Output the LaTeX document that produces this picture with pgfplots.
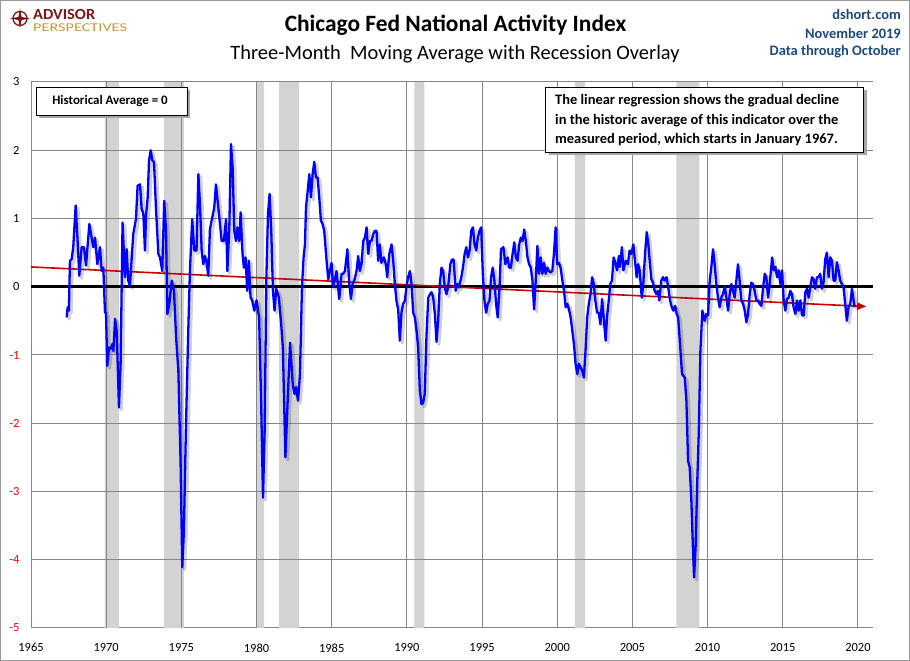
\documentclass[border=0pt]{standalone}
\usepackage{fontspec}
\setmainfont{Carlito}
\usepackage{graphicx}
\usepackage{pgfplots}
\pgfplotsset{compat=1.18}
\usepackage{pgfplotstable}
\usetikzlibrary{arrows.meta}
\definecolor{apblue}{RGB}{31,73,125}
\definecolor{apred}{RGB}{125,22,24}
\definecolor{aptan}{RGB}{196,154,60}
\definecolor{gridgray}{RGB}{134,134,134}
\definecolor{bandgray}{RGB}{211,211,211}
\definecolor{regred}{RGB}{200,0,0}
\definecolor{lineblue}{RGB}{0,0,255}

\pgfplotstableread{
year val
1967.37 -0.45
1967.44 -0.30
1967.52 -0.35
1967.59 0.38
1967.70 0.40
1967.81 0.58
1967.97 1.19
1968.10 0.67
1968.21 0.16
1968.37 0.58
1968.52 0.58
1968.66 0.31
1968.88 0.92
1969.03 0.72
1969.14 0.58
1969.26 0.72
1969.41 0.33
1969.59 0.58
1969.70 0.23
1969.81 0.28
1969.92 -0.38
1969.99 -0.38
1970.07 -1.16
1970.19 -0.89
1970.30 -0.91
1970.41 -0.84
1970.48 -0.94
1970.59 -0.47
1970.70 -0.65
1970.85 -1.77
1970.96 -1.13
1971.09 0.94
1971.25 0.14
1971.36 0.55
1971.47 0.09
1971.58 0.01
1971.80 0.77
1971.98 0.99
1972.09 1.48
1972.25 1.50
1972.36 1.14
1972.47 1.07
1972.58 0.53
1972.65 1.04
1972.76 1.31
1972.85 1.85
1972.96 2.00
1973.07 1.85
1973.18 1.83
1973.31 1.16
1973.47 0.48
1973.58 0.43
1973.73 0.23
1973.86 1.26
1973.98 0.82
1974.07 -0.40
1974.20 -0.25
1974.36 0.09
1974.51 -0.06
1974.65 -0.74
1974.80 -1.23
1974.95 -2.60
1975.06 -4.11
1975.17 -3.58
1975.30 -2.11
1975.46 -0.64
1975.57 0.23
1975.72 0.99
1975.86 0.53
1976.01 0.53
1976.13 1.65
1976.24 1.21
1976.35 0.53
1976.46 0.33
1976.57 0.45
1976.68 0.36
1976.79 0.16
1976.90 0.84
1977.05 1.01
1977.19 1.16
1977.30 1.50
1977.46 1.16
1977.57 0.92
1977.68 0.67
1977.83 0.67
1977.97 0.99
1978.06 0.23
1978.19 0.87
1978.30 2.09
1978.41 1.75
1978.52 0.82
1978.63 0.67
1978.72 0.87
1978.85 0.67
1978.94 1.09
1979.07 0.48
1979.16 0.28
1979.27 0.43
1979.38 -0.06
1979.49 0.38
1979.60 -0.15
1979.71 -0.20
1979.85 -0.35
1980.00 -0.20
1980.17 -0.45
1980.30 -1.62
1980.43 -3.09
1980.54 -2.11
1980.65 0.09
1980.76 1.07
1980.87 1.36
1980.98 0.82
1981.09 -0.06
1981.20 -0.35
1981.31 -0.03
1981.48 -0.15
1981.64 -0.55
1981.75 -0.89
1981.92 -2.50
1982.08 -1.62
1982.23 -0.82
1982.41 -1.43
1982.52 -1.57
1982.63 -1.47
1982.76 -1.67
1982.89 -1.28
1983.02 -0.01
1983.13 0.43
1983.22 0.62
1983.29 1.16
1983.40 1.40
1983.51 1.65
1983.62 1.31
1983.73 1.65
1983.84 1.83
1983.95 1.60
1984.06 1.60
1984.17 1.31
1984.28 0.97
1984.39 0.92
1984.50 0.82
1984.66 0.38
1984.77 0.11
1984.99 0.35
1985.10 -0.01
1985.21 0.11
1985.32 0.23
1985.50 -0.18
1985.66 0.19
1985.77 0.19
1985.88 0.23
1986.04 0.55
1986.17 0.04
1986.28 -0.18
1986.39 0.04
1986.50 0.09
1986.65 0.23
1986.76 0.45
1986.87 0.23
1986.98 0.33
1987.10 0.67
1987.21 0.72
1987.32 0.87
1987.43 0.48
1987.54 0.67
1987.65 0.67
1987.76 0.77
1987.87 0.82
1987.98 0.82
1988.09 0.38
1988.20 0.62
1988.31 0.35
1988.47 0.43
1988.60 0.33
1988.69 0.14
1988.83 0.48
1988.98 0.62
1989.09 0.38
1989.20 0.04
1989.31 -0.21
1989.42 -0.33
1989.53 -0.79
1989.64 -0.38
1989.75 -0.25
1989.86 -0.21
1989.97 -0.01
1990.08 0.14
1990.20 0.23
1990.31 0.04
1990.42 -0.38
1990.53 -0.45
1990.64 -0.64
1990.75 -0.89
1990.86 -1.52
1990.97 -1.72
1991.08 -1.70
1991.19 -1.57
1991.30 -0.74
1991.42 -0.16
1991.53 -0.11
1991.64 -0.08
1991.75 -0.16
1991.86 -0.40
1991.97 -0.81
1992.08 -0.50
1992.19 0.04
1992.30 0.28
1992.41 0.23
1992.52 -0.01
1992.63 -0.11
1992.74 -0.01
1992.89 0.33
1993.00 0.40
1993.11 0.40
1993.24 -0.06
1993.35 0.04
1993.46 -0.01
1993.62 0.14
1993.73 0.28
1993.84 0.48
1993.95 0.58
1994.06 0.43
1994.17 0.53
1994.28 0.82
1994.39 0.87
1994.50 0.62
1994.61 0.53
1994.72 0.72
1994.83 0.82
1994.94 0.87
1995.05 0.19
1995.16 -0.21
1995.27 -0.38
1995.38 -0.25
1995.49 -0.21
1995.60 0.14
1995.71 0.28
1995.82 0.09
1995.93 -0.25
1996.04 -0.45
1996.15 -0.06
1996.26 0.55
1996.42 0.58
1996.55 0.33
1996.70 0.43
1996.81 0.28
1996.92 0.28
1997.03 0.48
1997.14 0.65
1997.25 0.43
1997.36 0.38
1997.47 0.62
1997.58 0.72
1997.69 0.67
1997.80 0.84
1997.91 0.67
1998.02 0.43
1998.13 0.33
1998.24 0.28
1998.35 0.09
1998.46 -0.33
1998.57 0.09
1998.68 0.60
1998.79 0.19
1998.90 0.43
1999.01 0.19
1999.12 0.35
1999.23 0.19
1999.34 0.28
1999.45 0.23
1999.56 0.21
1999.67 0.23
1999.78 0.48
1999.89 0.87
2000.00 0.33
2000.11 0.35
2000.22 0.28
2000.34 0.09
2000.45 -0.06
2000.56 -0.30
2000.67 -0.25
2000.78 -0.33
2000.89 -0.45
2001.00 -0.64
2001.11 -0.84
2001.22 -1.13
2001.33 -1.28
2001.44 -1.13
2001.55 -1.18
2001.66 -1.23
2001.77 -1.33
2001.88 -0.94
2001.99 -0.45
2002.10 -0.25
2002.21 -0.11
2002.32 0.14
2002.43 0.04
2002.54 -0.21
2002.65 -0.38
2002.76 -0.38
2002.87 -0.55
2002.98 -0.18
2003.09 -0.45
2003.22 -0.79
2003.31 -0.45
2003.42 -0.21
2003.53 0.04
2003.64 0.09
2003.75 0.43
2003.86 0.35
2003.98 0.24
2004.10 0.45
2004.16 0.29
2004.30 0.58
2004.40 0.24
2004.55 0.38
2004.70 0.33
2004.81 0.53
2004.92 0.48
2005.06 0.62
2005.16 0.40
2005.28 0.14
2005.38 0.33
2005.48 0.24
2005.62 -0.16
2005.72 0.04
2005.84 0.48
2005.95 0.80
2006.06 0.62
2006.15 0.38
2006.26 0.11
2006.37 0.06
2006.48 -0.06
2006.60 -0.11
2006.70 -0.06
2006.79 -0.20
2006.92 0.09
2007.03 0.14
2007.14 0.09
2007.27 0.14
2007.38 -0.01
2007.50 -0.20
2007.62 -0.30
2007.72 -0.35
2007.84 -0.28
2007.95 -0.40
2008.04 -0.45
2008.15 -0.79
2008.30 -1.28
2008.48 -1.33
2008.59 -1.67
2008.70 -2.55
2008.81 -2.65
2008.92 -3.14
2009.03 -3.87
2009.10 -4.26
2009.21 -3.77
2009.30 -2.94
2009.41 -2.16
2009.52 -0.94
2009.65 -0.35
2009.81 -0.50
2009.92 -0.40
2010.03 -0.42
2010.14 0.09
2010.25 0.29
2010.36 0.55
2010.47 0.33
2010.58 0.04
2010.69 -0.16
2010.80 -0.30
2010.91 -0.16
2011.02 -0.11
2011.14 0.01
2011.25 -0.16
2011.36 -0.35
2011.47 -0.11
2011.58 0.04
2011.69 -0.06
2011.80 -0.16
2011.91 0.09
2012.02 0.33
2012.13 0.09
2012.24 -0.20
2012.36 -0.25
2012.47 -0.35
2012.58 -0.52
2012.69 -0.40
2012.80 -0.11
2012.91 0.06
2013.02 0.04
2013.13 -0.06
2013.24 -0.20
2013.35 -0.20
2013.46 -0.25
2013.58 -0.28
2013.69 -0.01
2013.80 0.19
2013.91 0.14
2014.02 -0.16
2014.13 0.04
2014.29 0.43
2014.40 0.24
2014.51 0.29
2014.62 0.14
2014.73 0.24
2014.84 0.04
2014.95 0.24
2015.06 -0.20
2015.17 -0.35
2015.28 -0.18
2015.39 -0.16
2015.50 -0.06
2015.61 -0.11
2015.72 -0.30
2015.84 -0.40
2015.95 -0.20
2016.06 -0.35
2016.17 -0.20
2016.28 -0.42
2016.39 -0.42
2016.50 -0.08
2016.61 -0.03
2016.72 -0.16
2016.83 -0.01
2016.94 0.14
2017.05 0.11
2017.16 -0.03
2017.27 0.14
2017.38 0.14
2017.49 0.19
2017.60 -0.03
2017.71 0.06
2017.82 0.40
2017.93 0.50
2018.05 0.14
2018.16 0.43
2018.27 0.38
2018.38 0.09
2018.49 0.09
2018.60 0.36
2018.71 0.24
2018.82 0.09
2018.93 0.04
2019.04 -0.01
2019.15 -0.25
2019.26 -0.50
2019.37 -0.30
2019.49 -0.25
2019.60 -0.03
2019.71 -0.20
2019.78 -0.30
}\cfnai

\begin{document}
\begin{tikzpicture}
\path[use as bounding box] (0bp,0bp) rectangle (910bp,661bp);
\fill[white] (0bp,0bp) rectangle (910bp,661bp);
\draw[gray!80, line width=1bp] (0.5bp,0.5bp) rectangle (909.5bp,660.5bp);

\begin{axis}[
  at={(31bp,33bp)}, anchor=south west,
  scale only axis, width=842bp, height=546bp,
  xmin=1965, xmax=2021, ymin=-5, ymax=3,
  axis lines=left,
  axis line style={-, draw=gridgray, line width=1bp},
  xtick={1965,1970,...,2020},
  xticklabels={1965,1970,1975,1980,1985,1990,1995,2000,2005,2010,2015,2020},
  ytick={-5,-4,-3,-2,-1,0,1,2,3},
  yticklabels={{\textcolor{red}{-5}},{\textcolor{red}{-4}},{\textcolor{red}{-3}},{\textcolor{red}{-2}},{\textcolor{red}{-1}},0,1,2,3},
  tick align=outside,
  xtick style={draw=none},
  ytick style={draw=none},
  major tick length=5bp,
  xticklabel style={font=\fontsize{12.5}{14}\selectfont, yshift=-7bp},
  yticklabel style={font=\fontsize{12.5}{14}\selectfont, xshift=-3bp},
  clip=false,
]
% recession bands
\addplot[fill=bandgray, draw=none] coordinates {(1969.92,-5) (1969.92,3) (1970.85,3) (1970.85,-5) (1969.92,-5)};
\addplot[fill=bandgray, draw=none] coordinates {(1973.86,-5) (1973.86,3) (1975.17,3) (1975.17,-5) (1973.86,-5)};
\addplot[fill=bandgray, draw=none] coordinates {(1980.03,-5) (1980.03,3) (1980.50,3) (1980.50,-5) (1980.03,-5)};
\addplot[fill=bandgray, draw=none] coordinates {(1981.50,-5) (1981.50,3) (1982.83,3) (1982.83,-5) (1981.50,-5)};
\addplot[fill=bandgray, draw=none] coordinates {(1990.50,-5) (1990.50,3) (1991.17,3) (1991.17,-5) (1990.50,-5)};
\addplot[fill=bandgray, draw=none] coordinates {(2001.17,-5) (2001.17,3) (2001.85,3) (2001.85,-5) (2001.17,-5)};
\addplot[fill=bandgray, draw=none] coordinates {(2007.92,-5) (2007.92,3) (2009.45,3) (2009.45,-5) (2007.92,-5)};
% grid lines
\pgfplotsinvokeforeach{1970,1975,1980,1985,1990,1995,2000,2005,2010,2015,2020}{
  \addplot[gridgray, line width=1bp] coordinates {(#1,-5) (#1,3)};
}
\pgfplotsinvokeforeach{-4,-3,-2,-1,1,2,3}{
  \addplot[gridgray, line width=1bp] coordinates {(1965,#1) (2021,#1)};
}
% zero line
\addplot[black, line width=3bp] coordinates {(1965,0) (2021,0)};
% regression line
\addplot[regred, line width=1.6bp, -{Triangle[length=9bp,width=7bp]}] coordinates {(1965,0.29) (2020.56,-0.29)};
% shadow of the series
\addplot[black, opacity=0.18, line width=3bp, line join=round] table[x expr=\thisrow{year}+0.16, y expr=\thisrow{val}-0.037] {\cfnai};
% main series
\addplot[lineblue, line width=2.3bp, line join=round] table[x=year,y=val] {\cfnai};
\end{axis}

% text boxes
\fill[black!35] (39bp,543bp) rectangle (190bp,571bp);
\filldraw[fill=white, draw=black, line width=0.8bp] (36bp,546bp) rectangle (187bp,574bp);
\node[font=\bfseries\fontsize{13}{15}\selectfont] at (110bp,560bp) {Historical Average = 0};

\fill[black!35] (548.6bp,506bp) rectangle (866.6bp,571bp);
\filldraw[fill=white, draw=black, line width=0.8bp] (545.6bp,509bp) rectangle (863.6bp,574bp);
\node[font=\bfseries\fontsize{14.5}{19.5}\selectfont, align=left, anchor=north west, inner sep=0pt] at (555bp,566.5bp) {The linear regression shows the gradual decline\\in the historic average of this indicator over the\\measured period, which starts in January 1967.};

% titles
\node[font=\bfseries\fontsize{23.5}{26}\selectfont] at (455.5bp,636bp) {Chicago Fed National Activity Index};
\node[font=\fontsize{20.5}{24}\selectfont] at (455bp,607bp) {Three-Month\ \ Moving\ Average\ with\ Recession\ Overlay};

% right header
\node[font=\bfseries\fontsize{14.5}{16}\selectfont, text=apblue, anchor=east, inner sep=0pt] at (901bp,647bp) {dshort.com};
\node[font=\bfseries\fontsize{14.5}{16}\selectfont, text=apblue, anchor=east, inner sep=0pt] at (901bp,628bp) {November 2019};
\node[font=\bfseries\fontsize{14.5}{16}\selectfont, text=apblue, anchor=east, inner sep=0pt] at (901bp,609bp) {Data through October};

% logo
\draw[apred, line width=1.3bp] (20bp,642.5bp) circle (7bp);
\fill[apred] (20bp,652.5bp) -- (21.6bp,644.1bp) -- (30bp,642.5bp) -- (21.6bp,640.9bp) -- (20bp,632.5bp) -- (18.4bp,640.9bp) -- (10bp,642.5bp) -- (18.4bp,644.1bp) -- cycle;
\node[font=\bfseries\fontsize{15.5}{17}\selectfont, text=apred, anchor=base west, inner sep=0pt] at (33bp,641.5bp) {\scalebox{1.06}[1]{ADVISOR}};
\node[font=\fontsize{12}{13}\selectfont, text=aptan, anchor=base west, inner sep=0pt] at (33bp,629.5bp) {\scalebox{1.36}[1]{PERSPECTIVES}};
\end{tikzpicture}
\end{document}
